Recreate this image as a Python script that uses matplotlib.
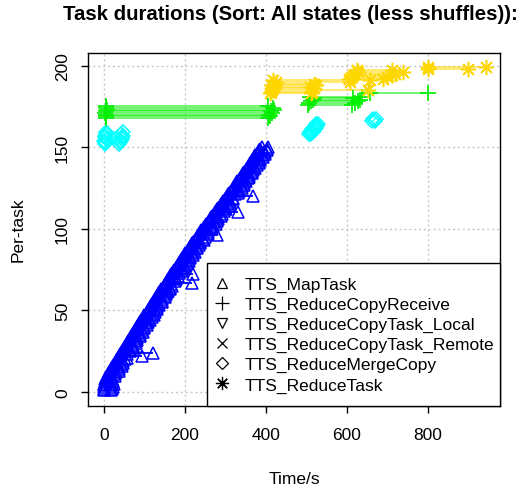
import matplotlib
matplotlib.use("Agg")
import matplotlib.pyplot as plt
from matplotlib.lines import Line2D
from matplotlib.patches import Rectangle

# ---------------- data ----------------
title = "Task durations (Sort: All states (less shuffles)):"
x_label = "Time/s"
y_label = "Per-task"
x_ticks = [0, 200, 400, 600, 800]
y_ticks = [0, 50, 100, 150, 200]
states = ["TTS_MapTask", "TTS_ReduceCopyReceive", "TTS_ReduceCopyTask_Local",
          "TTS_ReduceCopyTask_Remote", "TTS_ReduceMergeCopy", "TTS_ReduceTask"]

map_y = list(range(1, 151))
map_start = [0, 0, 0, 1, 1, 2, 2, 3, 5, 8,
             10, 13, 15, 18, 20, 22, 25, 27, 30, 32,
             35, 37, 40, 42, 45, 47, 50, 52, 55, 57,
             60, 62, 65, 67, 70, 72, 75, 77, 80, 82,
             85, 87, 90, 92, 95, 98, 100, 103, 106, 108,
             111, 113, 116, 118, 121, 124, 126, 129, 132, 134,
             137, 140, 142, 145, 148, 150, 153, 156, 158, 161,
             164, 166, 169, 172, 174, 177, 180, 182, 185, 188,
             190, 193, 196, 199, 201, 204, 207, 210, 212, 215,
             218, 221, 224, 227, 229, 232, 235, 238, 241, 244,
             247, 250, 253, 256, 259, 262, 265, 268, 271, 274,
             277, 280, 283, 286, 289, 292, 295, 298, 301, 304,
             307, 310, 313, 316, 319, 321, 324, 327, 330, 333,
             336, 339, 341, 344, 347, 350, 353, 356, 359, 361,
             364, 366, 369, 372, 374, 377, 380, 383, 386, 390]
map_dur = [18, 20, 22, 16, 24, 19, 21, 17, 15, 20,
           18, 16, 21, 19, 17, 22, 18, 20, 16, 19,
           21, 57, 18, 79, 20, 17, 22, 19, 16, 21,
           18, 20, 17, 23, 19, 16, 21, 18, 20, 17,
           22, 19, 18, 21, 16, 20, 23, 17, 19, 18,
           21, 18, 20, 16, 22, 19, 17, 21, 18, 20,
           19, 17, 22, 18, 20, 16, 64, 19, 21, 18,
           20, 54, 17, 22, 19, 18, 21, 16, 20, 23,
           18, 20, 17, 21, 19, 22, 16, 20, 18, 21,
           19, 17, 22, 18, 20, 48, 21, 19, 17, 22,
           18, 20, 23, 17, 21, 19, 16, 22, 20, 57,
           19, 21, 17, 22, 18, 20, 16, 21, 19, 64,
           18, 22, 20, 17, 21, 19, 23, 18, 20, 16,
           21, 19, 17, 22, 20, 18, 21, 16, 19, 22,
           18, 20, 17, 21, 19, 22, 18, 20, 16, 15]

merge_y = [152, 153, 154, 155, 156, 157, 158, 159,
           158, 159, 160, 161, 162, 163, 164, 166, 167]
merge_start = [2, 3, 1, 4, 2, 3, 5, 4,
               506, 509, 512, 515, 518, 521, 524, 663, 664]
merge_end = [38, 40, 42, 44, 45, 46, 43, 47,
             512, 515, 518, 521, 524, 527, 530, 670, 672]

recv_y = [168, 169, 170, 171, 172, 173, 174, 175,
          176, 177, 178, 179, 180, 181, 183]
recv_start = [5, 4, 6, 3, 5, 7, 4, 6,
              505, 508, 512, 516, 520, 510, 657]
recv_end = [405, 410, 408, 415, 412, 420, 418, 406,
            612, 620, 627, 633, 615, 637, 800]

red_y = [183, 184, 185, 186, 187, 188, 189, 190, 191,
         192, 193, 194, 195, 196, 197, 198, 199]
red_start = [410, 412, 415, 418, 420, 414, 422, 425, 418,
             605, 610, 615, 620, 628, 625, 800, 802]
red_end = [512, 515, 652, 520, 510, 525, 518, 607, 658,
           690, 700, 712, 720, 738, 712, 900, 945]

# ---------------- styling ----------------
blue = "#0000FF"
green = "#00EE00"
cyan = "#00FFFF"
gold = "#FFD700"

plt.rcParams['font.family'] = ['Liberation Sans', 'DejaVu Sans']
fs = 12.5

W, H = 525, 489
L, R, T, B = 88, 500, 54, 407
fig = plt.figure(figsize=(W / 100, H / 100), dpi=100)
ax = fig.add_axes([L / W, 1 - B / H, (R - L) / W, (B - T) / H])
ax.set_xlim(-39.6, 979)
ax.set_ylim(-8.6, 207.7)

def ax_x(px):
    return (px - L) / (R - L)

def ax_y(py):
    return (B - py) / (B - T)

for xv in x_ticks:
    ax.axvline(xv, color="#C8C8C8", lw=1, ls=(0, (1.5, 2)), zorder=0)
for yv in y_ticks:
    ax.axhline(yv, color="#C8C8C8", lw=1, ls=(0, (1.5, 2)), zorder=0)

def draw(ys, starts, ends, color, marker, ms, mew, lw_alpha=0.6):
    ax.hlines(ys, starts, ends, colors=color, lw=1.3, alpha=lw_alpha, zorder=2)
    ax.plot(starts, ys, ls="none", marker=marker, ms=ms, mew=mew, mec=color,
            mfc="none", zorder=3)
    ax.plot(ends, ys, ls="none", marker=marker, ms=ms, mew=mew, mec=color,
            mfc="none", zorder=3)

map_end = [s + d for s, d in zip(map_start, map_dur)]
draw(map_y, map_start, map_end, blue, "^", 8.2, 1.1, 1.0)
draw(merge_y, merge_start, merge_end, cyan, "D", 7, 1.1)
draw(recv_y, recv_start, recv_end, green, "+", 11, 1.2)
draw(red_y, red_start, red_end, gold, (8, 2, 0), 11, 1.1)

ax.set_xticks(x_ticks)
ax.set_yticks(y_ticks)
ax.set_xticklabels([str(v) for v in x_ticks], fontsize=fs)
ax.set_yticklabels([str(v) for v in y_ticks], fontsize=fs, rotation=90, va="center")
ax.tick_params(axis="both", direction="out", length=5, width=1, color="black")
ax.tick_params(axis="x", pad=10)
ax.tick_params(axis="y", pad=8)
for sp in ax.spines.values():
    sp.set_linewidth(1)
    sp.set_color("black")

fig.text(294 / W, 1 - 480 / H, x_label, ha="center", va="center", fontsize=fs)
fig.text(18 / W, 1 - 230 / H, y_label, ha="center", va="center", fontsize=fs, rotation=90)
fig.text(290 / W, 1 - 15 / H, title, ha="center", va="center", fontsize=14.7,
         fontweight="bold")

# legend box (frame drawn separately to match R's paddings)
box = Rectangle((ax_x(207), 0), 1 - ax_x(207), ax_y(264), transform=ax.transAxes,
                facecolor="white", edgecolor="black", lw=1, zorder=4, clip_on=False)
ax.add_patch(box)

handle_markers = ["^", "+", "v", "x", "D", (8, 2, 0)]
handle_sizes = [7.5, 9.5, 7.5, 7, 6.5, 9.5]
handles = [Line2D([], [], ls="none", marker=m, ms=s, mec="black", mfc="none", mew=0.9)
           for m, s in zip(handle_markers, handle_sizes)]
leg = ax.legend(handles, states, loc="center left",
                bbox_to_anchor=(ax_x(206), ax_y(335.5)),
                borderaxespad=0, frameon=False,
                fontsize=fs, handlelength=0.8, handletextpad=0.92, borderpad=0.5,
                labelspacing=0.28)
leg.set_zorder(5)

fig.savefig("out.png", dpi=100)
